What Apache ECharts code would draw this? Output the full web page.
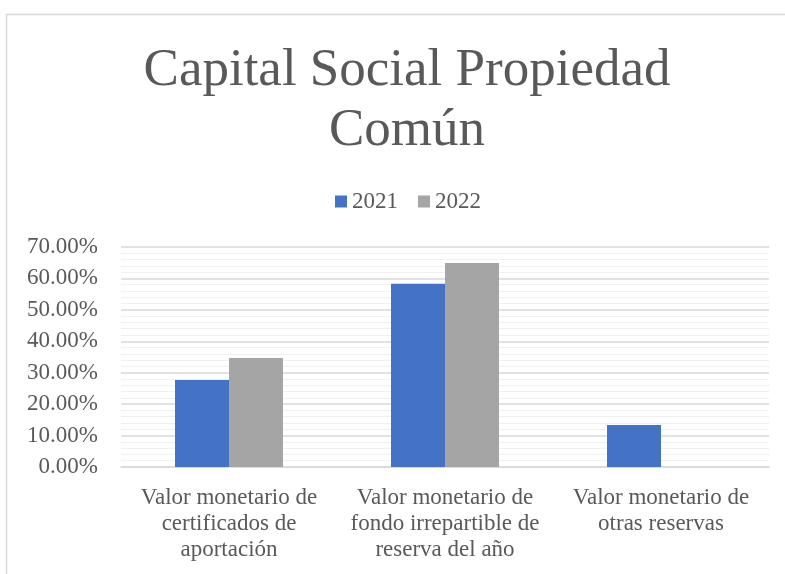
<!DOCTYPE html>
<html>
<head>
<meta charset="utf-8">
<script src="https://cdn.jsdelivr.net/npm/echarts@6/dist/echarts.min.js"></script>
<style>
  html, body { margin: 0; padding: 0; background: #fff; }
  #chart { width: 785px; height: 574px; }
</style>
</head>
<body>
<div id="chart"></div>
<script>
// datos
const categories = [
  'Valor monetario de\ncertificados de\naportación',
  'Valor monetario de\nfondo irrepartible de\nreserva del año',
  'Valor monetario de\notras reservas'
]
const serie2021 = [27.7, 58.3, 13.4]
const serie2022 = [34.7, 64.9, null]
const yTicks = [0, 10, 20, 30, 40, 50, 60, 70]

const serif = '"Liberation Serif", "DejaVu Serif", serif'
const textColor = '#595959'

let myChart = echarts.init(document.getElementById('chart'))
myChart.setOption({
  animation: false,
  title: {
    text: 'Capital Social Propiedad\nComún',
    left: 402,
    textAlign: 'center',
    top: 36,
    textStyle: {
      fontFamily: serif,
      fontSize: 53,
      fontWeight: 'normal',
      color: textColor,
      lineHeight: 60
    }
  },
  legend: {
    top: 185,
    left: 330,
    itemWidth: 12,
    itemHeight: 12,
    itemGap: 20,
    itemStyle: { borderWidth: 0 },
    icon: 'rect',
    textStyle: { fontFamily: serif, fontSize: 23, color: textColor }
  },
  graphic: [{
    type: 'rect',
    shape: { x: 6.5, y: 14.5, width: 800, height: 600 },
    style: { fill: 'none', stroke: '#D9D9D9', lineWidth: 1.5 },
    silent: true
  }],
  grid: { left: 121, right: 16, top: 247, bottom: 107 },
  xAxis: {
    type: 'category',
    data: categories,
    axisTick: { show: false },
    axisLine: { lineStyle: { color: '#D9D9D9', width: 1.5 } },
    axisLabel: {
      interval: 0,
      hideOverlap: false,
      fontFamily: serif,
      fontSize: 23,
      color: textColor,
      lineHeight: 26,
      margin: 18
    }
  },
  yAxis: {
    type: 'value',
    min: yTicks[0],
    max: yTicks[yTicks.length - 1],
    interval: 10,
    axisLine: { show: false },
    axisTick: { show: false },
    axisLabel: {
      fontFamily: serif,
      fontSize: 23,
      color: textColor,
      margin: 23,
      formatter: v => v.toFixed(2) + '%'
    },
    splitLine: { lineStyle: { color: '#D9D9D9', width: 1.5 } },
    minorTick: { show: false, splitNumber: 5 },
    minorSplitLine: { show: true, lineStyle: { color: '#F0F0F0', width: 1 } }
  },
  series: [
    {
      name: '2021',
      type: 'bar',
      data: serie2021,
      barGap: '0%',
      barCategoryGap: '50%',
      itemStyle: { color: '#4472C4' }
    },
    {
      name: '2022',
      type: 'bar',
      data: serie2022,
      itemStyle: { color: '#A5A5A5' }
    }
  ]
})
</script>
</body>
</html>
